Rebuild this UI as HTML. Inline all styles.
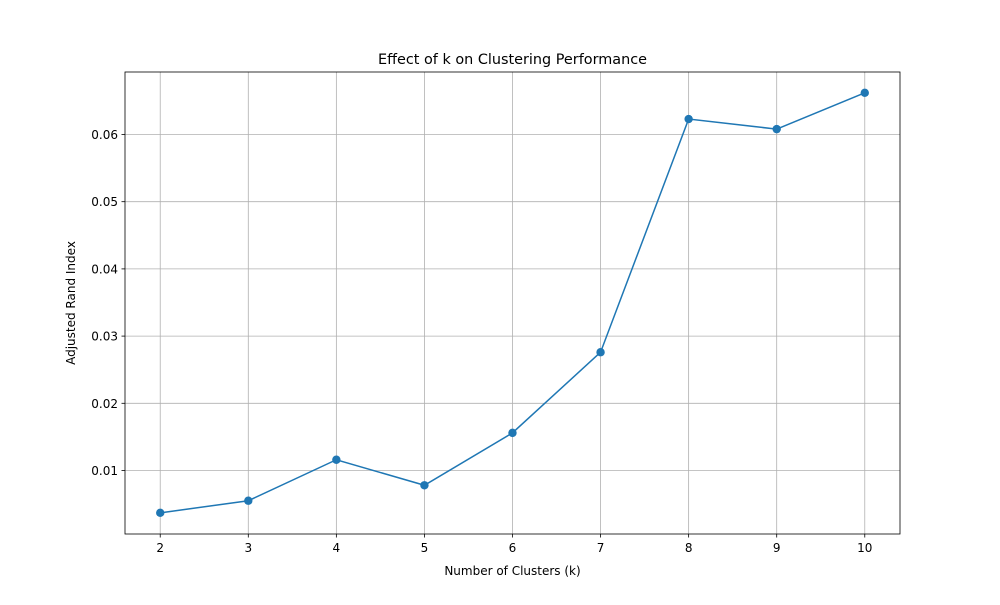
<!DOCTYPE html>
<html><head><meta charset="utf-8"><style>body{margin:0;background:#fff}svg text{font-family:"DejaVu Sans","Liberation Sans",sans-serif;fill:#000}</style></head>
<body>
<svg id="chart" width="1000" height="600" xmlns="http://www.w3.org/2000/svg">
<rect width="1000" height="600" fill="#fff"/>
<g id="grid"></g>
<g id="axes"></g>
<g id="series"></g>
<text x="512.5" y="64" font-size="14.4" text-anchor="middle">Effect of k on Clustering Performance</text>
<text x="512.5" y="575" font-size="12" text-anchor="middle">Number of Clusters (k)</text>
<text x="0" y="0" font-size="12" text-anchor="middle" transform="translate(75,303) rotate(-90)">Adjusted Rand Index</text>
</svg>
<script>
const categories=[2,3,4,5,6,7,8,9,10];
const ariValues=[0.0037,0.0055,0.0116,0.0078,0.0156,0.0276,0.0623,0.0608,0.0662];
const yTicks=[0.01,0.02,0.03,0.04,0.05,0.06];
const yTickLabels=["0.01","0.02","0.03","0.04","0.05","0.06"];
const L=125,R=900,T=72,B=534;
const xMin=1.6,xMax=10.4,yMin=0.00055,yMax=0.0693;
const X=v=>L+(v-xMin)/(xMax-xMin)*(R-L);
const Y=v=>B-(v-yMin)/(yMax-yMin)*(B-T);
const ns="http://www.w3.org/2000/svg";
function mk(t,a,p){const e=document.createElementNS(ns,t);for(const k in a)e.setAttribute(k,a[k]);p.appendChild(e);return e;}
const g=document.getElementById('grid'),ax=document.getElementById('axes'),s=document.getElementById('series');
categories.forEach(c=>{const x=X(c);
const l=mk('line',{x1:x,x2:x,y1:T,y2:B,stroke:'#b0b0b0','stroke-width':0.8},g);

const t=mk('line',{x1:x,x2:x,y1:B,y2:B+3.5,stroke:'#000','stroke-width':0.8},ax);

const tx=mk('text',{x:x,y:B+18,'font-size':12,'text-anchor':'middle'},ax);tx.textContent=c;
});
yTicks.forEach((v,i)=>{const y=Y(v);
const l=mk('line',{x1:L,x2:R,y1:y,y2:y,stroke:'#b0b0b0','stroke-width':0.8},g);

const t=mk('line',{x1:L-3.5,x2:L,y1:y,y2:y,stroke:'#000','stroke-width':0.8},ax);

const tx=mk('text',{x:L-7,y:y+4.5,'font-size':12,'text-anchor':'end'},ax);tx.textContent=yTickLabels[i];
});
const fr=mk('rect',{x:L,y:T,width:R-L,height:B-T,fill:'none',stroke:'#000','stroke-width':0.8},ax);

const pl=mk('polyline',{points:categories.map((c,i)=>X(c)+','+Y(ariValues[i])).join(' '),fill:'none',stroke:'#1f77b4','stroke-width':1.5},s);

categories.forEach((c,i)=>{const p=mk('circle',{cx:X(c),cy:Y(ariValues[i]),r:4.2,fill:'#1f77b4'},s);
});
</script>
</body></html>
